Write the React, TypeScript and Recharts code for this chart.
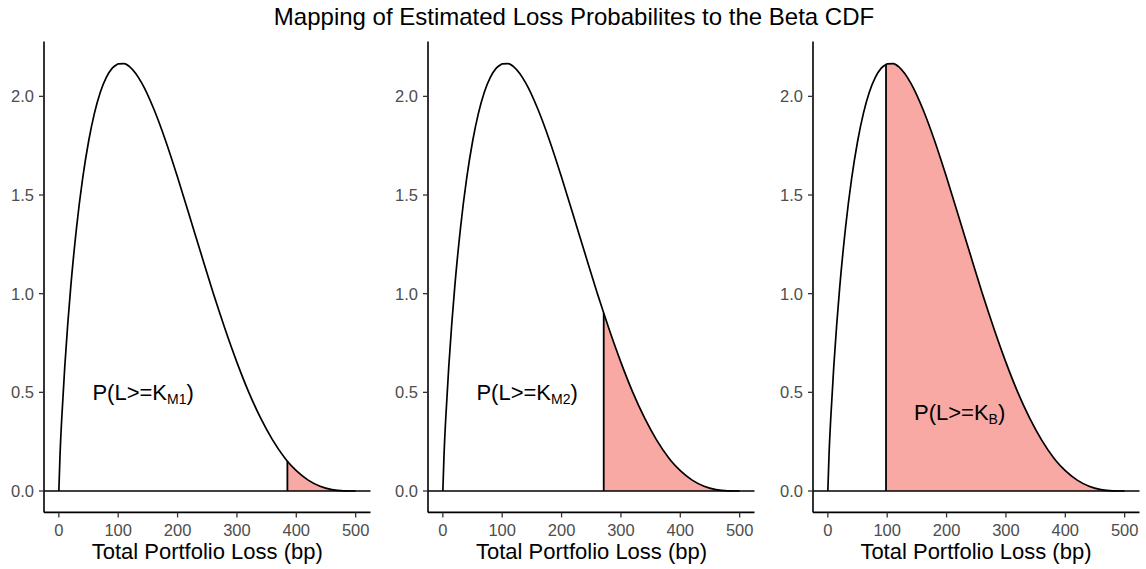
import React from 'react';
import { ComposedChart, Area, Line, XAxis, YAxis, ReferenceLine, ReferenceDot } from 'recharts';

// loss grid (bp) and beta density
const lossBp = [
  0, 2, 5, 10, 15, 20, 30, 40, 50, 60, 70, 80, 90, 98, 100, 110, 120, 140, 160, 180,
  200, 220, 240, 260, 271, 280, 300, 320, 340, 360, 380, 385, 400, 420, 440, 460, 480, 500,
];
const density = [
  0, 0.183, 0.374, 0.631, 0.846, 1.032, 1.34, 1.582, 1.77, 1.915, 2.022, 2.096, 2.143, 2.162, 2.165, 2.166, 2.148, 2.066, 1.936, 1.774,
  1.59, 1.395, 1.198, 1.004, 0.902, 0.821, 0.652, 0.5, 0.369, 0.259, 0.17, 0.151, 0.103, 0.055, 0.024, 0.007, 0.001, 0,
];

// one panel per threshold
const thresholds = [385, 271, 98];
const subscripts = ['M1', 'M2', 'B'];
const labelBp = [142, 142, 222];
const labelDensity = [0.5, 0.5, 0.4];

const xTicks = [0, 100, 200, 300, 400, 500];
const yTicks = [0, 0.5, 1, 1.5, 2];

const title = 'Mapping of Estimated Loss Probabilites to the Beta CDF';
const xTitle = 'Total Portfolio Loss (bp)';

const FONT = '"Liberation Sans", Arial, Helvetica, sans-serif';
const FILL = '#F8A9A4';
const panelLeft = [0, 384.3, 768.7];

function panelData(k: number) {
  return lossBp.map((x, i) => ({ x, y: density[i], tail: x >= k ? density[i] : null }));
}

function ProbLabel(props: any) {
  const vb = props.viewBox || { x: 0, y: 0, width: 0, height: 0 };
  const cx = vb.x + (vb.width || 0) / 2;
  const cy = vb.y + (vb.height || 0) / 2;
  return (
    <text x={cx} y={cy + 8} textAnchor="middle" fontSize={22} fontFamily={FONT} fill="#000">
      P(L&gt;=K
      <tspan fontSize={14} dy={3.5}>{props.sub}</tspan>
      <tspan dy={-3.5}>)</tspan>
    </text>
  );
}

function Panel({ idx }: { idx: number }) {
  const k = thresholds[idx];
  const data = panelData(k);
  const kDensity = density[lossBp.indexOf(k)];
  const sub = subscripts[idx];
  return (
    <div style={{ position: 'absolute', left: panelLeft[idx], top: 0 }}>
      <ComposedChart width={384} height={569} data={data} margin={{ top: 41.5, right: 13.5, bottom: 0, left: 0 }}>
        <XAxis
          dataKey="x"
          type="number"
          domain={[-25, 525]}
          ticks={xTicks}
          allowDataOverflow
          height={56.6}
          axisLine={{ stroke: '#000', strokeWidth: 1.6 }}
          tickLine={{ stroke: '#333', strokeWidth: 1.3 }}
          tickSize={5}
          tickMargin={6.6}
          tick={{ fill: '#4D4D4D', fontSize: 16.5, fontFamily: FONT }}
        />
        <YAxis
          type="number"
          domain={[-0.1085, 2.278]}
          ticks={yTicks}
          allowDataOverflow
          width={44}
          tickFormatter={(v: number) => v.toFixed(1)}
          axisLine={{ stroke: '#000', strokeWidth: 1.6 }}
          tickLine={{ stroke: '#333', strokeWidth: 1.3 }}
          tickSize={5}
          tickMargin={5}
          tick={{ fill: '#4D4D4D', fontSize: 16.5, fontFamily: FONT }}
        />
        <Area
          dataKey="tail"
          type="monotone"
          fill={FILL}
          fillOpacity={1}
          stroke="none"
          baseValue={0}
          isAnimationActive={false}
        />
        <ReferenceLine y={0} stroke="#000" strokeWidth={1.6} />
        <Line
          dataKey="y"
          type="monotone"
          stroke="#000"
          strokeWidth={1.7}
          dot={false}
          activeDot={false}
          isAnimationActive={false}
        />
        <ReferenceLine segment={[{ x: k, y: 0 }, { x: k, y: kDensity }]} stroke="#000" strokeWidth={1.8} />
        <ReferenceDot
          x={labelBp[idx]}
          y={labelDensity[idx]}
          r={0}
          fill="none"
          stroke="none"
          label={(p: any) => <ProbLabel {...p} sub={sub} />}
        />
      </ComposedChart>
      <div
        style={{
          position: 'absolute',
          left: 44,
          width: 326.5,
          top: 541.4,
          textAlign: 'center',
          fontFamily: FONT,
          fontSize: 22,
          lineHeight: '22px',
          color: '#000',
        }}
      >
        {xTitle}
      </div>
    </div>
  );
}

export default function App() {
  return (
    <div style={{ position: 'absolute', left: 0, top: 0, width: 1146, height: 569, background: '#fff' }}>
      <div
        style={{
          position: 'absolute',
          left: 0,
          width: 1148,
          top: 5,
          textAlign: 'center',
          fontFamily: FONT,
          fontSize: 24,
          lineHeight: '24px',
          color: '#000',
        }}
      >
        {title}
      </div>
      {thresholds.map((_, i) => (
        <Panel key={i} idx={i} />
      ))}
    </div>
  );
}
